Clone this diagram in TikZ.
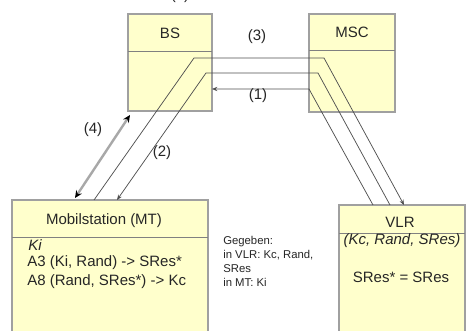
\documentclass[tikz,border=0pt]{standalone}
\usepackage{fontspec}
\setmainfont{Liberation Sans}
\usetikzlibrary{calc,arrows.meta}
\definecolor{boxfill}{HTML}{FFFFCC}
\definecolor{boxdraw}{HTML}{A0A0A0}
\definecolor{divcol}{HTML}{808080}
\definecolor{linecol}{HTML}{505050}
\definecolor{dblcol}{HTML}{A8A8A8}
\begin{document}
\begin{tikzpicture}[x=0.75pt,y=-0.75pt,
  box/.style={draw=boxdraw, fill=boxfill, line width=0.9pt, anchor=north west, inner sep=0pt, outer sep=0pt},
  divider/.style={draw=divcol, line width=0.6pt},
  txt/.style={font=\fontsize{11.25}{13.5}\selectfont, inner sep=0pt, text=black!85},
  small/.style={font=\fontsize{8.5}{9.75}\selectfont, inner sep=0pt, align=left, text=black!85},
  conn/.style={draw=linecol, line width=0.55pt},
  tip/.style={-{Stealth[length=4pt,width=3.2pt]}},
  dbl/.style={draw=dblcol, line width=1.8pt, {Stealth[length=5.5pt,width=5pt,color=black]}-{Stealth[length=5.5pt,width=5pt,color=black]}}
  ]
\useasboundingbox (0,0) rectangle (468,331);
\clip (0,0) rectangle (468,331);
\fill[white] (0,0) rectangle (468,331);
% boxes
\node[box, minimum width=63pt, minimum height=72.75pt] (BS) at (128,14) {};
\node[box, minimum width=64.5pt, minimum height=73.5pt] (MSC) at (309,14) {};
\node[box, minimum width=147pt, minimum height=112.5pt] (MT) at (12,200) {};
\node[box, minimum width=94.5pt, minimum height=108.75pt] (VLR) at (339,205) {};
% dividers
\draw[divider] ($(BS.north west)+(0,37)$) -- ($(BS.north east)+(0,37)$);
\draw[divider] ($(MSC.north west)+(0,36)$) -- ($(MSC.north east)+(0,36)$);
\draw[divider] ($(MT.north west)+(0,37)$) -- ($(MT.north east)+(0,37)$);
\draw[divider] ($(VLR.north west)+(0,28)$) -- ($(VLR.north east)+(0,28)$);
% titles
\node[txt] (tBS) at (170,33) {BS};
\node[txt] (tMSC) at (352,32) {MSC};
\node[txt] (tMT) at (104,221) {Mobilstation (MT)};
\node[txt] (tVLR) at (400,222) {VLR};
% body texts
\node[txt, anchor=west] (ki) at (28,245) {\itshape Ki};
\node[txt, anchor=west] (a3) at (27,263) {A3 (Ki, Rand) -> SRes*};
\node[txt, anchor=west] (a8) at (27,281.5) {A8 (Rand, SRes*) -> Kc};
\node[txt] (vk) at (402,241) {\itshape (Kc, Rand, SRes)};
\node[txt] (vs) at (401,277) {SRes* = SRes};
\node[small, anchor=west] (g1) at (223,241.5) {Gegeben:};
\node[small, anchor=west] (g2) at (223,255) {in VLR: Kc, Rand,};
\node[small, anchor=west] (g3) at (223,268.5) {SRes};
\node[small, anchor=west] (g4) at (223,282) {in MT: Ki};
% connector coordinates
\coordinate (mtA) at ($(MT.north west)+(82,0)$);
\coordinate (a1) at (194,58);
\coordinate (a2) at (324,58);
\coordinate (vlrA) at ($(VLR.north west)+(65,0)$);
\coordinate (vlrB) at ($(VLR.north west)+(51,0)$);
\coordinate (b2) at (318,73);
\coordinate (b1) at (206,73);
\coordinate (mtB) at ($(MT.north west)+(105,0)$);
\coordinate (vlrC) at ($(VLR.north west)+(34,0)$);
\coordinate (c1) at (309,89);
\coordinate (bsC) at ($(BS.north east)+(0,75)$);
\coordinate (mt4) at ($(MT.north west)+(63,-2)$);
\coordinate (bs4) at ($(BS.south west)+(2,4)$);
% connectors
\draw[conn,tip] (mtA) -- (a1) -- (a2) -- (vlrA);
\draw[conn,tip] (vlrB) -- (b2) -- (b1) -- (mtB);
\draw[conn,tip] (vlrC) -- (c1) -- (bsC);
\draw[dbl] (mt4) -- (bs4);
% labels
\node[txt] (l3) at (257,37) {(3)};
\node[txt] (l1) at (258,96) {(1)};
\node[txt] (l2) at (162,153) {(2)};
\node[txt] (l4) at (93,130) {(4)};
\node[txt, anchor=base] (l5) at (180,0) {(5)};
\end{tikzpicture}
\end{document}
